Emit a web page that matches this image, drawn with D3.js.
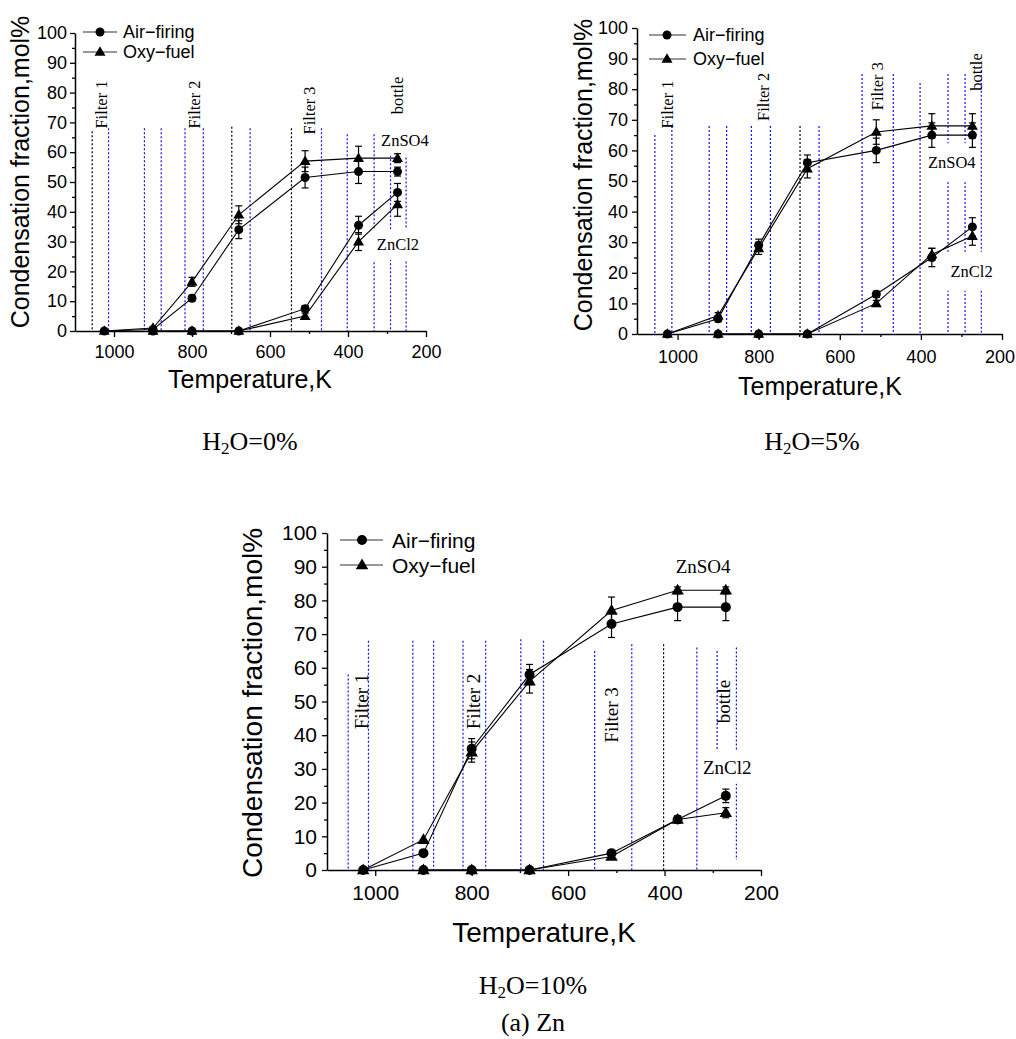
<!DOCTYPE html>
<html><head><meta charset="utf-8">
<script src="https://cdn.jsdelivr.net/npm/d3@7"></script>
<style>body{margin:0;background:#fff} svg{display:block}</style>
</head><body>
<svg id="c" width="1016" height="1039"></svg>
<script>
// ---------- data ----------
const temps = [1025, 900, 800, 680, 510, 373, 273];      // ZnSO4 sampling temperatures (K)
const tempsCl = [900, 800, 680, 510, 373, 273];          // ZnCl2 sampling temperatures (K)
const xTicks = [1000, 800, 600, 400, 200];
const xMinor = [900, 700, 500, 300];
const yTicks = [0, 10, 20, 30, 40, 50, 60, 70, 80, 90, 100];
const yMinor = [5, 15, 25, 35, 45, 55, 65, 75, 85, 95];
const seriesNames = ["Air-firing", "Oxy-fuel"];

// H2O = 0%
const so4Air0 = [0, 0.5, 11, 34, 51.5, 53.5, 53.5];
const so4AirErr0 = [0, 0.5, 1, 3, 3.5, 4, 1.5];
const so4Oxy0 = [0, 1, 16.5, 39, 57, 58, 58];
const so4OxyErr0 = [0, 0.5, 1.5, 3, 3.5, 4, 1.5];
const clAir0 = [0, 0, 0, 7.5, 35.5, 46.5];
const clAirErr0 = [0, 0, 0, 1, 3, 3];
const clOxy0 = [0, 0, 0, 5, 30, 42.5];
const clOxyErr0 = [0, 0, 0, 1, 3, 4];

// H2O = 5%
const so4Air5 = [0, 5, 29, 56, 60, 65, 65];
const so4AirErr5 = [0, 1, 2, 2.5, 4, 4, 4];
const so4Oxy5 = [0, 6, 28, 54, 66, 68, 68];
const so4OxyErr5 = [0, 1, 2, 3, 4, 4, 4];
const clAir5 = [0, 0, 0, 13, 25, 35];
const clAirErr5 = [0, 0, 0, 1, 3, 3];
const clOxy5 = [0, 0, 0, 10, 26, 32];
const clOxyErr5 = [0, 0, 0, 1, 2, 3];

// H2O = 10%
const so4Air10 = [0, 5, 36, 58, 73, 78, 78];
const so4AirErr10 = [0, 0.5, 3, 3, 4, 4, 4];
const so4Oxy10 = [0, 9, 35, 56, 77, 83, 83];
const so4OxyErr10 = [0, 0.5, 3, 3.5, 4, 1, 1];
const clAir10 = [0, 0, 0, 5, 15, 22];
const clAirErr10 = [0, 0, 0, 0.5, 1, 2];
const clOxy10 = [0, 0, 0, 4, 15, 17];
const clOxyErr10 = [0, 0, 0, 0.5, 1, 1.5];

// boundaries of the sampling zones (K)
const zoneT = [1056, 1014, 922, 879, 818, 771, 698, 651, 545, 468, 402, 333, 291, 251];
const zoneLabels = ["Filter 1", "Filter 2", "Filter 3", "bottle"];

// ---------- drawing ----------
const svg = d3.select("#c");
const SANS = "'Liberation Sans', Arial, sans-serif";
const NARROW = "'Liberation Sans Narrow', 'Arial Narrow', 'Liberation Sans', sans-serif";
const SERIF = "'Liberation Serif', 'Times New Roman', serif";

const panels = [
  {
    left: 75, right: 426, top: 33, bottom: 331,
    tickFont: 18, legendFont: 18, titleFont: 25, annFont: 16.5, r: 4.5, tri: 11,
    xPad: 8, yPad: 3,
    so4: [so4Air0, so4AirErr0, so4Oxy0, so4OxyErr0],
    cl: [clAir0, clAirErr0, clOxy0, clOxyErr0],
    vTop: [67, 68, 68, 68, 68, 68, 68.5, 68, 68, 68, 66, 66, 59, 69],
    vBot: null,
    vBlack: [0, 6, 8],
    zone: [[1031, 76], [793, 76], [499, 74], [272, 79]],
    so4Lab: [254, 64], clLab: [272, 29], labPad: [4, 6],
    legend: { x1: 83, x2: 117, mx: 100, tx: 123, y: [32, 52] },
    yTitle: [29, 172], xTitle: [250, 388],
    caption: { x: 250, y: 450, t: "0%" }
  },
  {
    left: 637, right: 1002, top: 28, bottom: 334,
    tickFont: 18, legendFont: 18, titleFont: 25, annFont: 16.5, r: 4.5, tri: 11,
    xPad: 10, yPad: 4,
    so4: [so4Air5, so4AirErr5, so4Oxy5, so4OxyErr5],
    cl: [clAir5, clAirErr5, clOxy5, clOxyErr5],
    vTop: [65, 68, 68, 68, 68, 68, 68, 68, 85, 85, 82, 85, 85, 86],
    vBot: null,
    vBlack: [6],
    zone: [[1025, 75], [789, 77.5], [506, 81], [262, 85.6]],
    so4Lab: [324, 56], clLab: [275, 20.5], labPad: [4, 10],
    legend: { x1: 649, x2: 686, mx: 667, tx: 693, y: [35, 59] },
    yTitle: [592, 175], xTitle: [820, 395],
    caption: { x: 812, y: 450, t: "5%" }
  },
  {
    left: 327, right: 761, top: 533, bottom: 870,
    tickFont: 21, legendFont: 21, titleFont: 28, annFont: 19, r: 5, tri: 12.5,
    xPad: 9, yPad: 5,
    so4: [so4Air10, so4AirErr10, so4Oxy10, so4OxyErr10],
    cl: [clAir10, clAirErr10, clOxy10, clOxyErr10],
    vTop: [58, 68, 68, 68, 68, 68, 68.5, 68, 65, 67, 67, 66, 65, 66],
    vBot: [0, 0, 0, 0, 0, 0, 0, 0, 0, 0, 0, 0, 35, 3],
    vBlack: [10],
    zone: [[1029, 50], [797, 50], [509, 46], [277, 50]],
    so4Lab: [320, 90], clLab: [270, 30.5], labPad: [4, 6],
    legend: { x1: 340, x2: 383, mx: 362, tx: 392, y: [540, 565] },
    yTitle: [262, 703], xTitle: [544, 942],
    caption: { x: 533, y: 994, t: "10%" }
  }
];

function drawMarker(g, cx, cy, shape, p, color) {
  if (shape === 0) {
    g.append("circle").attr("cx", cx).attr("cy", cy).attr("r", p.r).attr("fill", color || "#000");
  } else {
    const s = p.tri;
    const h = s * Math.sqrt(3) / 2;
    g.append("path")
      .attr("d", `M${cx},${cy - h * 0.6}L${cx + s / 2},${cy + h * 0.4}L${cx - s / 2},${cy + h * 0.4}Z`)
      .attr("fill", color || "#000");
  }
}

function drawPanel(p) {
  const x = d3.scaleLinear().domain([1100, 200]).range([p.left, p.right]);
  const y = d3.scaleLinear().domain([0, 100]).range([p.bottom, p.top]);
  const g = svg.append("g");

  // zone boundary dotted lines
  zoneT.forEach((t, i) => {
    g.append("line")
      .attr("x1", x(t)).attr("x2", x(t))
      .attr("y1", y(p.vTop[i])).attr("y2", y(p.vBot ? p.vBot[i] : 0))
      .attr("stroke", p.vBlack.includes(i) ? "#000" : "#1010ff")
      .attr("stroke-width", 1.2)
      .attr("stroke-dasharray", "2,2");
  });

  // zone labels (rotated)
  zoneLabels.forEach((lab, i) => {
    const [t, v] = p.zone[i];
    g.append("text")
      .attr("transform", `translate(${x(t)},${y(v)}) rotate(-90)`)
      .attr("text-anchor", "middle").attr("dominant-baseline", "central")
      .attr("font-family", SERIF).attr("font-size", p.annFont)
      .text(lab);
  });

  // species labels with white backgrounds
  [["ZnSO4", p.so4Lab], ["ZnCl2", p.clLab]].forEach(([lab, pos]) => {
    const t = g.append("text")
      .attr("x", x(pos[0])).attr("y", y(pos[1]))
      .attr("text-anchor", "middle").attr("dominant-baseline", "central")
      .attr("font-family", SERIF).attr("font-size", p.annFont)
      .text(lab);
    const bb = t.node().getBBox();
    g.insert("rect", () => t.node())
      .attr("x", bb.x - p.labPad[0]).attr("y", bb.y - p.labPad[1])
      .attr("width", bb.width + 2 * p.labPad[0]).attr("height", bb.height + 2 * p.labPad[1])
      .attr("fill", "#fff");
  });

  // axes
  const fmt = d3.format("d");
  const xAxis = g.append("g").attr("transform", `translate(0,${p.bottom})`)
    .call(d3.axisBottom(x).tickValues(xTicks).tickFormat(fmt).tickSize(6).tickSizeOuter(0).tickPadding(p.xPad));
  const xAxisMinor = g.append("g").attr("transform", `translate(0,${p.bottom})`)
    .call(d3.axisBottom(x).tickValues(xMinor).tickSize(3).tickSizeOuter(0).tickFormat(""));
  const yAxis = g.append("g").attr("transform", `translate(${p.left},0)`)
    .call(d3.axisLeft(y).tickValues(yTicks).tickFormat(fmt).tickSize(5).tickSizeOuter(0).tickPadding(p.yPad));
  const yAxisMinor = g.append("g").attr("transform", `translate(${p.left},0)`)
    .call(d3.axisLeft(y).tickValues(yMinor).tickSize(3).tickSizeOuter(0).tickFormat(""));
  [xAxis, xAxisMinor, yAxis, yAxisMinor].forEach(a => {
    a.select(".domain").attr("stroke", "#000").attr("stroke-width", 1.5);
    a.selectAll(".tick line").attr("stroke", "#000").attr("stroke-width", 1.3);
    a.selectAll("text").attr("font-family", NARROW).attr("font-size", p.tickFont).attr("fill", "#000");
  });
  xAxisMinor.select(".domain").remove();
  yAxisMinor.select(".domain").remove();
  // keep the last x tick label inside the page
  xAxis.selectAll(".tick text").each(function () {
    const bb = this.getBBox();
    const m = this.parentNode.getCTM();
    const right = m.e + bb.x + bb.width;
    if (right > 1015) d3.select(this).attr("x", 1015 - right);
  });

  // titles
  g.append("text")
    .attr("transform", `translate(${p.yTitle[0]},${p.yTitle[1]}) rotate(-90)`)
    .attr("text-anchor", "middle")
    .attr("font-family", SANS).attr("font-size", p.titleFont)
    .text("Condensation fraction,mol%");
  g.append("text")
    .attr("x", p.xTitle[0]).attr("y", p.xTitle[1])
    .attr("text-anchor", "middle")
    .attr("font-family", SANS).attr("font-size", p.titleFont)
    .text("Temperature,K");

  // series
  const lineGen = (tArr) => d3.line().x((d, i) => x(tArr[i])).y(d => y(d));
  const groups = [[temps, p.so4], [tempsCl, p.cl]];
  groups.forEach(([tArr, s]) => {
    [s[0], s[2]].forEach(vals => {
      g.append("path").datum(vals).attr("d", lineGen(tArr))
        .attr("fill", "none").attr("stroke", "#000").attr("stroke-width", 1.1);
    });
  });
  groups.forEach(([tArr, s]) => {
    [[s[0], s[1]], [s[2], s[3]]].forEach(([vals, errs]) => {
      vals.forEach((v, i) => {
        const e = errs[i];
        if (e > 0.6) {
          const cx = x(tArr[i]);
          g.append("line").attr("x1", cx).attr("x2", cx).attr("y1", y(v - e)).attr("y2", y(v + e))
            .attr("stroke", "#000").attr("stroke-width", 1.2);
          [v - e, v + e].forEach(w => g.append("line")
            .attr("x1", cx - 3.5).attr("x2", cx + 3.5).attr("y1", y(w)).attr("y2", y(w))
            .attr("stroke", "#000").attr("stroke-width", 1.2));
        }
      });
    });
  });
  groups.forEach(([tArr, s]) => {
    [[s[0], 0], [s[2], 1]].forEach(([vals, shape]) => {
      vals.forEach((v, i) => drawMarker(g, x(tArr[i]), y(v), shape, p));
    });
  });

  // legend
  seriesNames.forEach((name, i) => {
    const ly = p.legend.y[i];
    g.append("line").attr("x1", p.legend.x1).attr("x2", p.legend.x2).attr("y1", ly).attr("y2", ly)
      .attr("stroke", "#333").attr("stroke-width", 1.2);
    drawMarker(g, p.legend.mx, ly, i, p);
    g.append("text").attr("x", p.legend.tx).attr("y", ly)
      .attr("dominant-baseline", "central")
      .attr("font-family", SANS).attr("font-size", p.legendFont)
      .text(name.replace("-", "\u2212"));
  });

  // caption
  const c = svg.append("text").attr("x", p.caption.x).attr("y", p.caption.y)
    .attr("text-anchor", "middle").attr("font-family", SERIF).attr("font-size", 26);
  c.append("tspan").text("H");
  c.append("tspan").attr("font-size", 17).attr("dy", 4).text("2");
  c.append("tspan").attr("dy", -4).text("O=" + p.caption.t);
}

panels.forEach(drawPanel);

svg.append("text").attr("x", 533).attr("y", 1031)
  .attr("text-anchor", "middle").attr("font-family", SERIF).attr("font-size", 26)
  .text("(a) Zn");
</script>
</body></html>
